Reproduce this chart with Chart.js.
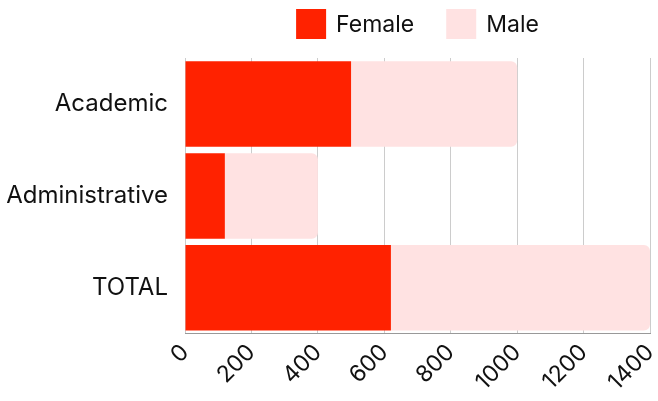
<!DOCTYPE html>
<html>
<head>
<meta charset="utf-8">
<script src="https://cdn.jsdelivr.net/npm/chart.js@4/dist/chart.umd.min.js"></script>
<style>
  html, body { margin: 0; padding: 0; background: #ffffff; }
  #wrap { width: 658px; height: 401px; }
</style>
</head>
<body>
<div id="wrap"><canvas id="chart"></canvas></div>
<script>
// Staff headcount by category and gender
const categories = ["Academic", "Administrative", "TOTAL"];
const femaleValues = [500, 120, 620];
const maleValues = [500, 280, 780];
const xTicks = [0, 200, 400, 600, 800, 1000, 1200, 1400];

const FONT = "Inter, 'Noto Sans', sans-serif";

// Legend row centred above the plot area, one swatch + label per dataset
const plotLegend = {
  id: "plotLegend",
  afterDraw(chart) {
    const ctx = chart.ctx;
    const area = chart.chartArea;
    const box = 30, gapText = 10, gapItem = 32, boxTop = 9;
    ctx.save();
    ctx.font = "23px " + FONT;
    const items = chart.data.datasets.map(ds => ({
      text: ds.label, color: ds.backgroundColor, w: ctx.measureText(ds.label).width
    }));
    const total = items.reduce((s, it) => s + box + gapText + it.w, 0) + gapItem * (items.length - 1);
    let x = (area.left + area.right) / 2 - total / 2;
    ctx.textBaseline = "middle";
    ctx.textAlign = "left";
    items.forEach(it => {
      ctx.fillStyle = it.color;
      ctx.fillRect(x, boxTop, box, box);
      ctx.fillStyle = "#111111";
      ctx.fillText(it.text, x + box + gapText, boxTop + box / 2 + 1);
      x += box + gapText + it.w + gapItem;
    });
    ctx.restore();
  }
};

new Chart(document.getElementById("chart"), {
  type: "bar",
  data: {
    labels: categories,
    datasets: [
      {
        label: "Female",
        data: femaleValues,
        backgroundColor: "#ff2200",
        borderWidth: 0,
        borderSkipped: false,
        borderRadius: 0
      },
      {
        label: "Male",
        data: maleValues,
        backgroundColor: "#ffe2e2",
        borderWidth: 0,
        borderRadius: { topLeft: 0, bottomLeft: 0, topRight: 6, bottomRight: 6 },
        borderSkipped: false
      }
    ]
  },
  plugins: [plotLegend],
  options: {
    indexAxis: "y",
    responsive: true,
    maintainAspectRatio: false,
    animation: false,
    layout: { padding: { left: 7, right: 8, top: 58, bottom: 0 }, autoPadding: false },
    datasets: {
      bar: { categoryPercentage: 0.93, barPercentage: 1.0 }
    },
    plugins: {
      legend: { display: false },
      tooltip: { enabled: false }
    },
    scales: {
      x: {
        stacked: true,
        min: 0,
        max: 1400,
        afterBuildTicks: (axis) => { axis.ticks = xTicks.map(v => ({ value: v })); },
        afterFit: (axis) => { axis.paddingRight = 0; axis.paddingLeft = 0; },
        ticks: {
          font: { family: FONT, size: 23 },
          color: "#111111",
          maxRotation: 45,
          minRotation: 45,
          padding: 5,
          callback: (v) => String(v)
        },
        grid: { color: "#cccccc", drawTicks: false, lineWidth: 1 },
        border: { display: true, color: "#999999" }
      },
      y: {
        stacked: true,
        afterFit: (axis) => { axis.width = 178; },
        ticks: {
          font: { family: FONT, size: 24 },
          color: "#111111",
          padding: 9
        },
        grid: { display: false },
        border: { display: false }
      }
    }
  }
});
</script>
</body>
</html>
